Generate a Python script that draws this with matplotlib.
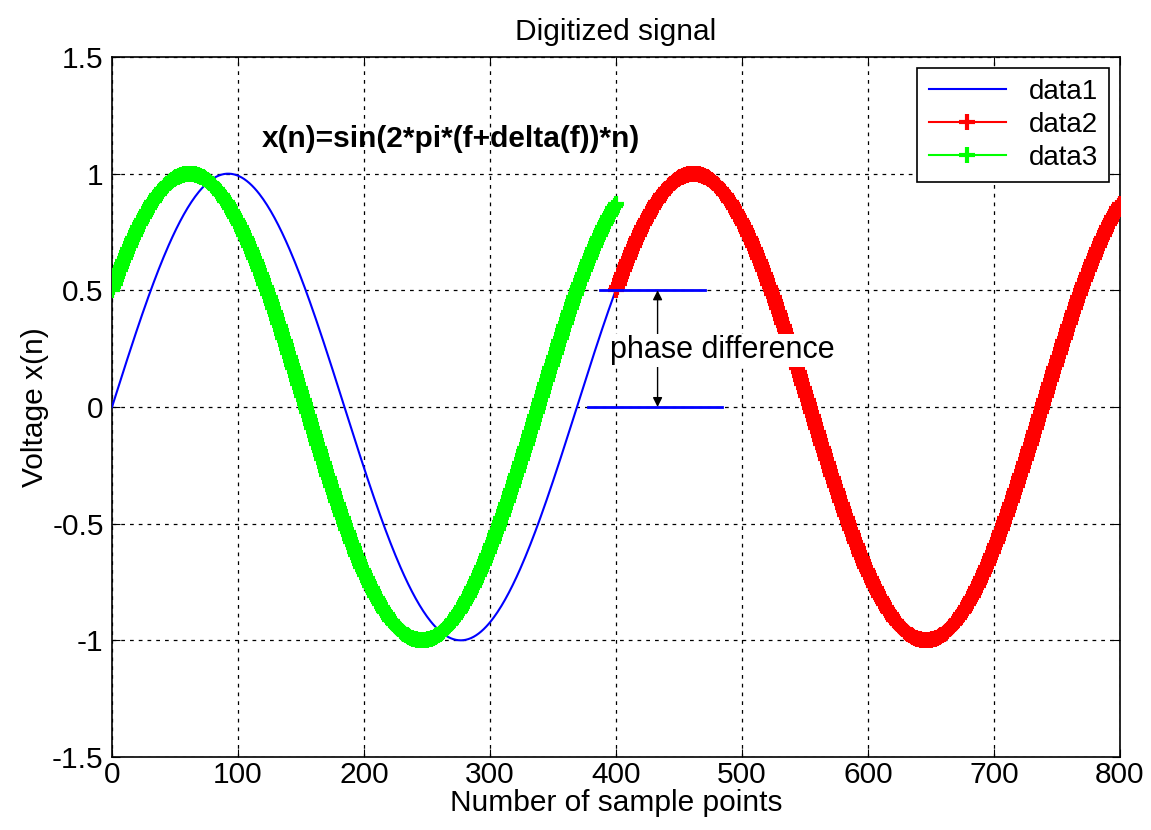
import matplotlib
matplotlib.use('Agg')
import matplotlib.pyplot as plt
import numpy as np

plt.rcParams['font.family'] = ['Liberation Sans', 'DejaVu Sans']

# values
period = 369.0          # samples per cycle
phase_deg = 30.0        # phase offset of data2 / data3
n1 = np.arange(0, 401)  # data1 and data3 sample index
n2 = np.arange(400, 801)  # data2 sample index

data1 = np.sin(2 * np.pi * n1 / period)
data3 = np.sin(2 * np.pi * n1 / period + np.deg2rad(phase_deg))
data2 = np.sin(2 * np.pi * (n2 - 400) / period + np.deg2rad(phase_deg))

xticks = [0, 100, 200, 300, 400, 500, 600, 700, 800]
yticks = [-1.5, -1, -0.5, 0, 0.5, 1, 1.5]
ytick_labels = ['-1.5', '-1', '-0.5', '0', '0.5', '1', '1.5']

fig = plt.figure(figsize=(11.51, 8.30), dpi=100)
ax = fig.add_axes([112 / 1151, 73 / 830, 1008 / 1151, 700 / 830])

ax.plot(n1, data1, color='blue', lw=1.5, label='data1', zorder=3)
ax.plot(n2, data2, color='red', lw=1.5, marker='+', ms=11, mew=3, label='data2', zorder=3)
ax.plot(n1, data3, color='#00ff00', lw=1.5, marker='+', ms=11, mew=3, label='data3', zorder=3)

# phase difference markers
ax.plot([387, 471], [0.5, 0.5], color='blue', lw=2, zorder=4)
ax.plot([378, 484], [0, 0], color='blue', lw=2, zorder=4)
ax.annotate('', xy=(433, 0.5), xytext=(433, 0.0),
            arrowprops=dict(arrowstyle='<|-|>', color='black', lw=1, mutation_scale=14,
                            shrinkA=0, shrinkB=0), zorder=5)
ax.text(395, 0.244, 'phase difference', fontsize=22, va='center', ha='left',
        bbox=dict(facecolor='white', edgecolor='none', pad=1), zorder=6)
ax.text(119, 1.15, 'x(n)=sin(2*pi*(f+delta(f))*n)', fontsize=21.5, fontweight='bold',
        va='center', ha='left', zorder=6)

ax.set_xlim(0, 800)
ax.set_ylim(-1.5, 1.5)
ax.set_xticks(xticks)
ax.set_yticks(yticks)
ax.set_yticklabels(ytick_labels)
ax.tick_params(direction='in', top=True, right=True, labelsize=21.5, length=6)
ax.tick_params(axis='x', pad=3)
ax.tick_params(axis='y', pad=6)
ax.grid(True, color='black', linestyle=(0, (3, 4)), lw=0.9)
ax.set_axisbelow(True)
for s in ax.spines.values():
    s.set_linewidth(1.2)

ax.set_title('Digitized signal', fontsize=21.5, pad=12)
ax.set_xlabel('Number of sample points', fontsize=21.5, labelpad=0)
ax.set_ylabel('Voltage x(n)', fontsize=21.5, labelpad=2)

leg = ax.legend(loc='upper right', fontsize=20, fancybox=False, framealpha=1,
                edgecolor='black', numpoints=1, handlelength=2.8,
                borderaxespad=0.4, labelspacing=0.25)
leg.get_frame().set_linewidth(1.2)

fig.savefig('out.png', dpi=100)
